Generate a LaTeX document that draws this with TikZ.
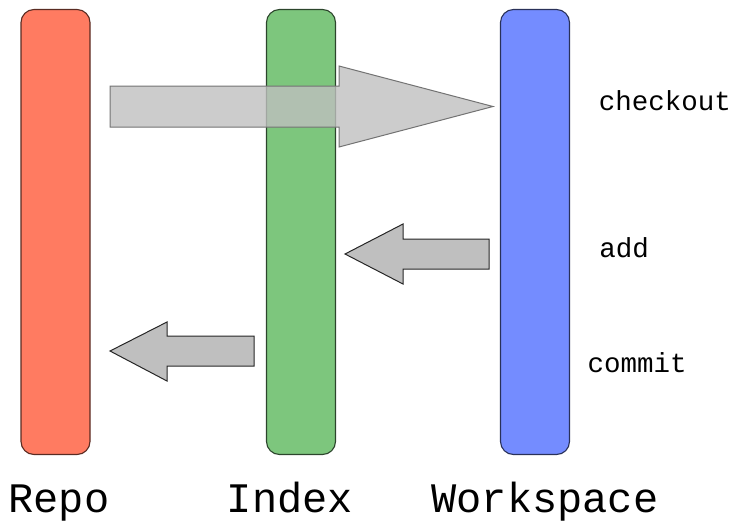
\documentclass[tikz,border=0pt]{standalone}
\usepackage{fontspec}
\setmonofont{Liberation Mono}
\definecolor{repored}{HTML}{FF7B61}
\definecolor{indexgreen}{HTML}{7DC67D}
\definecolor{workblue}{HTML}{748CFF}
\definecolor{arrowgray}{HTML}{BFBFBF}

\begin{document}
\begin{tikzpicture}[x=1pt, y=-1pt,
	bar/.style={draw=#1!35!black, line width=1.1pt, fill=#1, rounded corners=13pt, minimum width=69pt, minimum height=445pt, inner sep=0pt},
	bigarrow/.style={draw=black!55, line width=1pt, fill=arrowgray, fill opacity=0.8},
	smallarrow/.style={draw=black!85, line width=1pt, fill=arrowgray},
	biglabel/.style={font=\ttfamily\fontsize{42}{42}\selectfont, anchor=base, inner sep=0pt},
	cmdlabel/.style={font=\ttfamily\fontsize{27.5}{28}\selectfont, anchor=base, inner sep=0pt}]
	\useasboundingbox (0,0) rectangle (736,520); % Explicit bounding box
	\node[bar=repored] (repo) at (55.5, 232) {};
	\node[bar=indexgreen] (index) at (301, 232) {};
	\node[bar=workblue] (work) at (535, 232) {};
	\node[biglabel] (repolabel) at (59, 512) {Repo};
	\node[biglabel] (indexlabel) at (290, 512) {Index};
	\node[biglabel] (worklabel) at (545, 512) {Workspace};
	% checkout: repo -> workspace
	\draw [bigarrow] (110,86) -- (339,86) -- (339,66) -- (493,106.5) -- (339,147) -- (339,127) -- (110,127) -- cycle;
	% add: workspace -> index
	\draw [smallarrow] (489,239) -- (403,239) -- (403,224) -- (345,254) -- (403,284) -- (403,269) -- (489,269) -- cycle;
	% commit: index -> repo
	\draw [smallarrow] (254,336) -- (167,336) -- (167,322) -- (110,351) -- (167,381) -- (167,366) -- (254,366) -- cycle;
	\node[cmdlabel] (checkout) at (665, 110) {checkout};
	\node[cmdlabel] (add) at (624, 257) {add};
	\node[cmdlabel] (commit) at (637, 372) {commit};
\end{tikzpicture}
\end{document}
